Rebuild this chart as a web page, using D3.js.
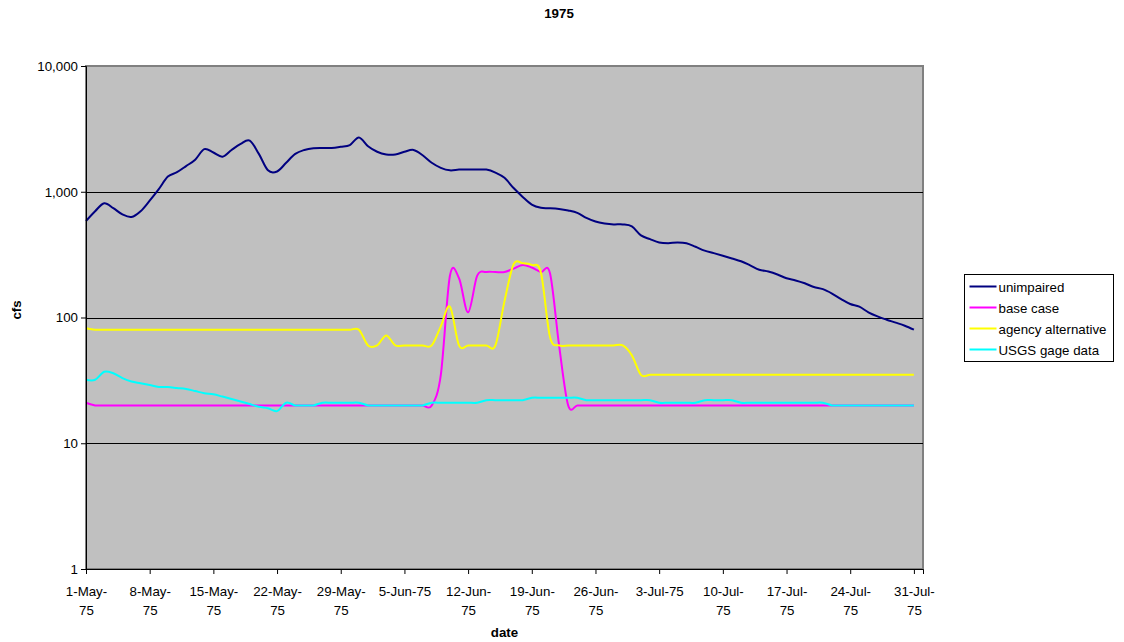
<!DOCTYPE html>
<html>
<head>
<meta charset="utf-8">
<script src="https://cdn.jsdelivr.net/npm/d3@7"></script>
<style>
  body { margin: 0; background: #fff; }
  #chart { width: 1124px; height: 642px; }
  text { font-family: Arial, "Liberation Sans", sans-serif; }
</style>
</head>
<body>
<div id="chart"></div>
<script>
// daily values, 1-May-75 .. 31-Jul-75
const startDate = new Date(Date.UTC(1975, 4, 1));
const endDate = new Date(Date.UTC(1975, 7, 1));

const unimpaired = [
  585, 700, 810, 740, 660, 630, 700, 850, 1050, 1320,
  1430, 1600, 1800, 2180, 2050, 1900, 2150, 2400, 2550, 2000,
  1480, 1450, 1700, 2000, 2150, 2220, 2230, 2230, 2280, 2350,
  2700, 2300, 2080, 1980, 1980, 2080, 2150, 1950, 1700, 1550,
  1480, 1500, 1500, 1500, 1500, 1420, 1290, 1070, 910, 790,
  745, 740, 730, 710, 680, 620, 580, 560, 550, 550,
  530, 450, 420, 395, 390, 395, 390, 365, 340, 325,
  310, 295, 280, 260, 240, 232, 220, 205, 197, 187,
  175, 168, 155, 140, 128, 122, 110, 102, 96, 91,
  86, 80
];

const baseCase = [
  21, 20, 20, 20, 20, 20, 20, 20, 20, 20,
  20, 20, 20, 20, 20, 20, 20, 20, 20, 20,
  20, 20, 20, 20, 20, 20, 20, 20, 20, 20,
  20, 20, 20, 20, 20, 20, 20, 20, 20, 35,
  215, 205, 110, 215, 230, 230, 230, 245, 262, 250,
  230, 225, 60, 20, 20, 20, 20, 20, 20, 20,
  20, 20, 20, 20, 20, 20, 20, 20, 20, 20,
  20, 20, 20, 20, 20, 20, 20, 20, 20, 20,
  20, 20, 20, 20, 20, 20, 20, 20, 20, 20,
  20, 20
];

const agencyAlternative = [
  82, 80, 80, 80, 80, 80, 80, 80, 80, 80,
  80, 80, 80, 80, 80, 80, 80, 80, 80, 80,
  80, 80, 80, 80, 80, 80, 80, 80, 80, 80,
  80, 60, 60, 72, 60, 60, 60, 60, 60, 85,
  122, 60, 60, 60, 60, 60, 135, 265, 270, 262,
  228, 70, 60, 60, 60, 60, 60, 60, 60, 60,
  50, 35, 35, 35, 35, 35, 35, 35, 35, 35,
  35, 35, 35, 35, 35, 35, 35, 35, 35, 35,
  35, 35, 35, 35, 35, 35, 35, 35, 35, 35,
  35, 35
];

const usgsGage = [
  32, 32, 37, 36, 33, 31, 30, 29, 28, 28,
  27.5, 27, 26, 25, 24.5, 23.5, 22.5, 21.5, 20.5, 19.5,
  19, 18, 21, 20, 20, 20, 21, 21, 21, 21,
  21, 20, 20, 20, 20, 20, 20, 20, 21, 21,
  21, 21, 21, 21, 22, 22, 22, 22, 22, 23,
  23, 23, 23, 23, 23, 22, 22, 22, 22, 22,
  22, 22, 22, 21, 21, 21, 21, 21, 22, 22,
  22, 22, 21, 21, 21, 21, 21, 21, 21, 21,
  21, 21, 20, 20, 20, 20, 20, 20, 20, 20,
  20, 20
];

const seriesNames = ['unimpaired', 'base case', 'agency alternative', 'USGS gage data'];
const seriesColors = ['#000080', '#FF00FF', '#FFFF00', '#00FFFF'];
const yTickValues = [1, 10, 100, 1000, 10000];
const xTickLabels = [
  ['1-May-', '75'], ['8-May-', '75'], ['15-May-', '75'], ['22-May-', '75'],
  ['29-May-', '75'], ['5-Jun-75'], ['12-Jun-', '75'], ['19-Jun-', '75'],
  ['26-Jun-', '75'], ['3-Jul-75'], ['10-Jul-', '75'], ['17-Jul-', '75'],
  ['24-Jul-', '75'], ['31-Jul-', '75']
];

function drawChart() {
  const container = d3.select('#chart');
  container.selectAll('*').remove();

  const plot = { left: 86, right: 923, top: 66, bottom: 569 };

  const svg = container.append('svg')
    .attr('width', 1124)
    .attr('height', 642);

  const dayMs = 24 * 3600 * 1000;
  const dates = unimpaired.map((_, i) => new Date(startDate.getTime() + i * dayMs));
  const tickDates = xTickLabels.map((_, i) => new Date(startDate.getTime() + i * 7 * dayMs));

  // Scales
  const x = d3.scaleUtc()
    .domain([startDate, endDate])
    .range([plot.left, plot.right]);

  const y = d3.scaleLog()
    .domain([1, 10000])
    .range([plot.bottom, plot.top]);

  // Plot area background
  svg.append('rect')
    .attr('x', plot.left)
    .attr('y', plot.top)
    .attr('width', plot.right - plot.left)
    .attr('height', plot.bottom - plot.top)
    .attr('fill', '#C0C0C0')
    .attr('stroke', '#808080')
    .attr('stroke-width', 2);

  // Grid lines
  svg.append('g')
    .selectAll('line')
    .data(yTickValues.filter(v => v > 1 && v < 10000))
    .enter()
    .append('line')
    .attr('x1', plot.left)
    .attr('x2', plot.right)
    .attr('y1', d => Math.round(y(d)) + 0.5)
    .attr('y2', d => Math.round(y(d)) + 0.5)
    .attr('stroke', '#000')
    .attr('stroke-width', 1);

  // Series lines
  const series = [unimpaired, baseCase, agencyAlternative, usgsGage];
  const line = d3.line()
    .x((d, i) => x(dates[i]))
    .y(d => y(d))
    .curve(d3.curveCatmullRom.alpha(0));

  series.forEach((values, k) => {
    svg.append('path')
      .datum(values)
      .attr('fill', 'none')
      .attr('stroke', seriesColors[k])
      .attr('stroke-width', 2)
      .attr('stroke-linejoin', 'round')
      .attr('d', line);
  });

  // Y axis
  const yAxis = d3.axisLeft(y)
    .tickValues(yTickValues)
    .tickFormat(d3.format(','))
    .tickSize(5)
    .tickPadding(3);

  const yAxisG = svg.append('g')
    .attr('transform', `translate(${plot.left},0)`)
    .call(yAxis);
  yAxisG.select('.domain').attr('stroke', '#000');
  yAxisG.selectAll('.tick line').attr('stroke', '#000');
  yAxisG.selectAll('text')
    .style('font-size', '13.3px')
    .attr('fill', '#000');

  // X axis
  const xAxis = d3.axisBottom(x)
    .tickValues(tickDates)
    .tickFormat('')
    .tickSize(5);

  const xAxisG = svg.append('g')
    .attr('transform', `translate(0,${plot.bottom})`)
    .call(xAxis);
  xAxisG.select('.domain').attr('stroke', '#000');
  xAxisG.selectAll('.tick line').attr('stroke', '#000');

  xAxisG.selectAll('.tick')
    .append('text')
    .attr('text-anchor', 'middle')
    .attr('fill', '#000')
    .style('font-size', '13.3px')
    .each(function(d, i) {
      const t = d3.select(this);
      xTickLabels[i].forEach((s, j) => {
        t.append('tspan')
          .attr('x', 0)
          .attr('y', 27 + j * 19)
          .text(s);
      });
    });

  // Titles
  svg.append('text')
    .attr('x', 559)
    .attr('y', 18)
    .attr('text-anchor', 'middle')
    .style('font-size', '13.3px')
    .style('font-weight', 'bold')
    .text('1975');

  svg.append('text')
    .attr('x', (plot.left + plot.right) / 2)
    .attr('y', 637)
    .attr('text-anchor', 'middle')
    .style('font-size', '13.3px')
    .style('font-weight', 'bold')
    .text('date');

  svg.append('text')
    .attr('transform', `translate(21, 310) rotate(-90)`)
    .attr('text-anchor', 'middle')
    .style('font-size', '13.3px')
    .style('font-weight', 'bold')
    .text('cfs');

  // Legend
  const legend = svg.append('g')
    .attr('transform', 'translate(964.5, 274.5)');

  legend.append('rect')
    .attr('width', 149)
    .attr('height', 87)
    .attr('fill', '#fff')
    .attr('stroke', '#000')
    .attr('stroke-width', 1);

  seriesNames.forEach((name, i) => {
    const item = legend.append('g')
      .attr('transform', `translate(0, ${12 + i * 21})`);

    item.append('line')
      .attr('x1', 5)
      .attr('x2', 32)
      .attr('y1', 0)
      .attr('y2', 0)
      .attr('stroke', seriesColors[i])
      .attr('stroke-width', 2);

    item.append('text')
      .attr('x', 34)
      .attr('y', 5)
      .style('font-size', '13.3px')
      .attr('fill', '#000')
      .text(name);
  });
}

drawChart();
</script>
</body>
</html>
